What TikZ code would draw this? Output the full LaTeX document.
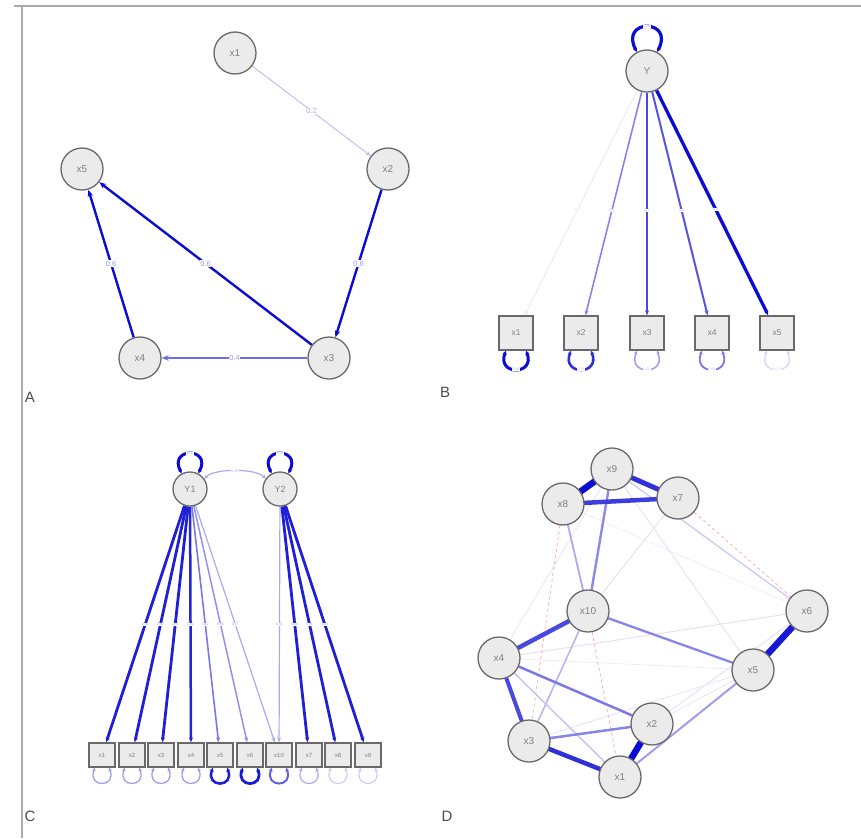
\documentclass[tikz,border=0pt]{standalone}
\usepackage{fontspec}
\setmainfont{Liberation Sans}
\usetikzlibrary{arrows.meta}
\definecolor{qb}{RGB}{12,12,210}
\definecolor{nodefill}{RGB}{235,235,235}
\definecolor{nodeline}{RGB}{105,105,105}
\definecolor{txt}{RGB}{128,128,128}
\definecolor{frame}{RGB}{170,170,170}
\pgfdeclarelayer{bg}
\pgfsetlayers{bg,main}
\tikzset{
  lat/.style={circle, fill=nodefill, draw=nodeline, line width=1.3pt, minimum size=42pt, inner sep=0pt, font=\fontsize{10}{10}\selectfont, text=txt},
  latc/.style={lat, minimum size=34pt, font=\fontsize{9}{9}\selectfont},
  obsb/.style={rectangle, fill=nodefill, draw=nodeline, line width=1.3pt, minimum size=34pt, inner sep=0pt, font=\fontsize{8.5}{8.5}\selectfont, text=txt},
  obsc/.style={obsb, minimum width=26pt, minimum height=24pt, font=\fontsize{6}{6}\selectfont},
  arr/.style={-{Stealth[length=7pt,width=5.5pt]}},
  arrs/.style={-{Stealth[length=5pt,width=4pt]}},
  lp/.style={{Stealth[length=4pt,width=4pt]}-{Stealth[length=4pt,width=4pt]}},
  elab/.style={fill=white, inner sep=0.5pt, font=\fontsize{7.5}{7.5}\selectfont},
  tlab/.style={fill=white, inner sep=0.3pt, font=\fontsize{3.5}{3.5}\selectfont},
  plabel/.style={font=\fontsize{15}{15}\selectfont, text=black!70, inner sep=0pt},
  ned/.style={line cap=round}
}
\begin{document}
\begin{tikzpicture}[x=1pt,y=1pt]
\useasboundingbox (0,0) rectangle (861,-838);
% frame
\coordinate (f1) at (14,-6);
\coordinate (f2) at (861,-6);
\coordinate (f3) at (22,-6);
\coordinate (f4) at (22,-838);
\draw[frame, line width=1.3pt] (f1) -- (f2);
\draw[frame, line width=1.3pt] (f3) -- (f4);

% ================= Panel A =================
\node[lat] (a1) at (235,-53) {x1};
\node[lat] (a2) at (388,-169) {x2};
\node[lat] (a5) at (82,-169) {x5};
\node[lat] (a4) at (140,-358) {x4};
\node[lat] (a3) at (329,-358) {x3};
\begin{pgfonlayer}{bg}
\draw[arrs, qb!28, line width=0.9pt] (a1) -- node[elab, text=qb!35]{0.2} (a2);
\draw[arr, qb, line width=2.4pt] (a2) -- node[elab, text=qb!42]{0.6} (a3);
\draw[arr, qb, line width=2.4pt] (a3) -- node[elab, text=qb!42]{0.6} (a5);
\draw[arr, qb, line width=2.4pt] (a4) -- node[elab, text=qb!42]{0.6} (a5);
\draw[arr, qb!60, line width=2pt] (a3) -- node[elab, text=qb!42]{0.4} (a4);
\end{pgfonlayer}
\node[plabel] (pA) at (30,-397) {A};

% ================= Panel B =================
\node[lat] (Y) at (647,-71) {Y};
\node[obsb] (b1) at (516,-333) {x1};
\node[obsb] (b2) at (581,-333) {x2};
\node[obsb] (b3) at (647,-333) {x3};
\node[obsb] (b4) at (712,-333) {x4};
\node[obsb] (b5) at (777,-333) {x5};
\begin{pgfonlayer}{bg}
\draw[arrs, qb!10, line width=0.8pt] (Y) -- node[tlab, pos=0.53, text=qb!15]{0.1} (b1);
\draw[arrs, qb!50, line width=1.6pt] (Y) -- node[tlab, pos=0.53, text=qb!40]{0.5} (b2);
\draw[arrs, qb!75, line width=2pt] (Y) -- node[tlab, pos=0.53, text=qb!40]{0.7} (b3);
\draw[arrs, qb!70, line width=2pt] (Y) -- node[tlab, pos=0.53, text=qb!40]{0.6} (b4);
\draw[arrs, qb, line width=3.3pt] (Y) -- node[tlab, pos=0.53, text=qb!40]{0.9} (b5);
\draw[lp, qb, line width=3.2pt] (Y.118) .. controls +(118:38) and +(62:38) .. node[tlab, text=qb!30]{1.00} (Y.62);
\draw[lp, qb, line width=3pt] ([xshift=-10pt]b1.south) .. controls +(-112:27) and +(-68:27) .. node[tlab, text=qb!30]{0.99} ([xshift=10pt]b1.south);
\draw[lp, qb!85, line width=2.6pt] ([xshift=-10pt]b2.south) .. controls +(-112:27) and +(-68:27) .. node[tlab, text=qb!30]{0.75} ([xshift=10pt]b2.south);
\draw[lp, qb!40, line width=1.5pt] ([xshift=-10pt]b3.south) .. controls +(-112:27) and +(-68:27) .. node[tlab, text=qb!30]{0.51} ([xshift=10pt]b3.south);
\draw[lp, qb!55, line width=1.8pt] ([xshift=-10pt]b4.south) .. controls +(-112:27) and +(-68:27) .. node[tlab, text=qb!30]{0.64} ([xshift=10pt]b4.south);
\draw[lp, qb!18, line width=1.2pt] ([xshift=-10pt]b5.south) .. controls +(-112:27) and +(-68:27) .. node[tlab, text=qb!20]{0.17} ([xshift=10pt]b5.south);
\end{pgfonlayer}
\node[plabel] (pB) at (445,-392) {B};

% ================= Panel C =================
\node[latc] (Y1) at (190,-489) {Y1};
\node[latc] (Y2) at (280,-489) {Y2};
\node[obsc] (c1) at (102,-755) {x1};
\node[obsc] (c2) at (132,-755) {x2};
\node[obsc] (c3) at (161,-755) {x3};
\node[obsc] (c4) at (191,-755) {x4};
\node[obsc] (c5) at (220,-755) {x5};
\node[obsc] (c6) at (250,-755) {x6};
\node[obsc] (c10) at (279,-755) {x10};
\node[obsc] (c7) at (309,-755) {x7};
\node[obsc] (c8) at (338,-755) {x8};
\node[obsc] (c9) at (368,-755) {x9};
\begin{pgfonlayer}{bg}
\draw[arrs, qb!92, line width=2.8pt] (Y1) -- node[tlab, text=qb!40]{0.84} (c1);
\draw[arrs, qb!92, line width=2.8pt] (Y1) -- node[tlab, text=qb!40]{0.82} (c2);
\draw[arrs, qb!92, line width=2.8pt] (Y1) -- node[tlab, text=qb!40]{0.81} (c3);
\draw[arrs, qb!90, line width=2.5pt] (Y1) -- node[tlab, text=qb!40]{0.80} (c4);
\draw[arrs, qb!55, line width=1.6pt] (Y1) -- node[tlab, text=qb!40]{0.50} (c5);
\draw[arrs, qb!45, line width=1.5pt] (Y1) -- node[tlab, text=qb!40]{0.44} (c6);
\draw[arrs, qb!35, line width=1.2pt] (Y1) -- node[tlab, text=qb!40]{0.37} (c10);
\draw[arrs, qb!35, line width=1.2pt] (Y2) -- node[tlab, text=qb!40]{0.37} (c10);
\draw[arrs, qb!92, line width=2.8pt] (Y2) -- node[tlab, text=qb!40]{0.86} (c7);
\draw[arrs, qb!92, line width=2.8pt] (Y2) -- node[tlab, text=qb!40]{0.86} (c8);
\draw[arrs, qb!92, line width=2.8pt] (Y2) -- node[tlab, text=qb!40]{0.85} (c9);
\draw[lp, qb!35, line width=1.2pt] (Y1.35) .. controls +(50:14) and +(130:14) .. node[tlab, text=qb!35]{0.35} (Y2.145);
\draw[lp, qb, line width=3pt] (Y1.118) .. controls +(118:30) and +(62:30) .. node[tlab, text=qb!30]{1.00} (Y1.62);
\draw[lp, qb, line width=3pt] (Y2.118) .. controls +(118:30) and +(62:30) .. node[tlab, text=qb!30]{1.00} (Y2.62);
\foreach \n/\c/\w in {c1/40/1.3, c2/40/1.3, c3/40/1.3, c4/40/1.3, c5/92/2.6, c6/95/2.8, c10/65/2, c7/35/1.2, c8/22/1.1, c9/22/1.1}{
  \draw[lp, qb!\c, line width=\w pt] ([xshift=-7pt]\n.south) .. controls +(-112:22) and +(-68:22) .. ([xshift=7pt]\n.south);
}
\end{pgfonlayer}
\node[plabel] (pC) at (30,-816) {C};

% ================= Panel D =================
\node[lat] (d9) at (612,-469) {x9};
\node[lat] (d8) at (563,-504) {x8};
\node[lat] (d7) at (678,-498) {x7};
\node[lat] (d10) at (588,-611) {x10};
\node[lat] (d6) at (807,-611) {x6};
\node[lat] (d4) at (499,-658) {x4};
\node[lat] (d5) at (753,-670) {x5};
\node[lat] (d2) at (652,-724) {x2};
\node[lat] (d3) at (529,-741) {x3};
\node[lat] (d1) at (620,-777) {x1};
\begin{pgfonlayer}{bg}
% faint
\draw[ned, qb!7, line width=0.8pt] (d8) -- (d6);
\draw[ned, qb!8, line width=0.8pt] (d4) -- (d5);
\draw[ned, qb!10, line width=0.9pt] (d3) -- (d5);
\draw[ned, qb!10, line width=0.9pt] (d2) -- (d5);
\draw[ned, qb!12, line width=1pt] (d2) -- (d6);
\draw[ned, qb!12, line width=1pt] (d4) -- (d6);
\draw[ned, qb!10, line width=0.9pt] (d4) -- (d9);
\draw[ned, qb!12, line width=1pt] (d7) -- (d10);
\draw[ned, qb!12, line width=1pt] (d9) -- (d5);
\draw[ned, qb!22, line width=1.3pt] (d9) -- (d6);
\draw[dashed, red!30, line width=0.9pt] (d7) -- (d6);
\draw[dashed, red!30, line width=0.9pt] (d8) -- (d3);
\draw[dashed, red!30, line width=0.9pt] (d10) -- (d1);
% medium
\draw[ned, qb!30, line width=1.6pt] (d10) -- (d3);
\draw[ned, qb!25, line width=1.4pt] (d4) -- (d1);
\draw[ned, qb!35, line width=1.8pt] (d8) -- (d10);
\draw[ned, qb!48, line width=2.4pt] (d9) -- (d10);
\draw[ned, qb!50, line width=2.3pt] (d10) -- (d5);
\draw[ned, qb!40, line width=2pt] (d1) -- (d5);
\draw[ned, qb!55, line width=2.5pt] (d4) -- (d2);
\draw[ned, qb!50, line width=2.5pt] (d3) -- (d2);
% strong
\draw[ned, qb!75, line width=4.5pt] (d10) -- (d4);
\draw[ned, qb!75, line width=4pt] (d4) -- (d3);
\draw[ned, qb!85, line width=4.5pt] (d3) -- (d1);
\draw[ned, qb, line width=6.5pt] (d2) -- (d1);
\draw[ned, qb!95, line width=6.5pt] (d6) -- (d5);
\draw[ned, qb, line width=6.5pt] (d9) -- (d8);
\draw[ned, qb!85, line width=5pt] (d9) -- (d7);
\draw[ned, qb!80, line width=4.5pt] (d8) -- (d7);
\end{pgfonlayer}
\node[plabel] (pD) at (447,-816) {D};
\end{tikzpicture}
\end{document}
